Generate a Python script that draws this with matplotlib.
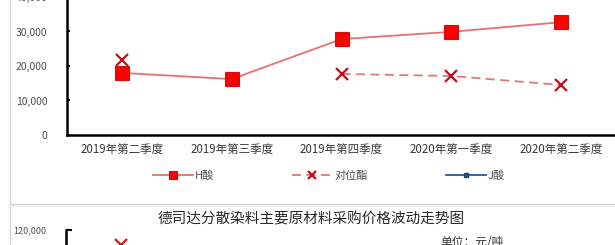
import numpy as np
import matplotlib
matplotlib.use("Agg")
import matplotlib.pyplot as plt
from matplotlib.lines import Line2D

plt.rcParams['font.family'] = ['Noto Sans CJK SC', 'DejaVu Sans']

# data
quarters = ["2019年第二季度", "2019年第三季度", "2019年第四季度",
            "2020年第一季度", "2020年第二季度"]
h_acid = [18000, 16200, 27800, 29900, 32700]
para_ester = [21700, np.nan, 17700, 17100, 14500]
j_acid = [np.nan, np.nan, np.nan, np.nan, np.nan]
series_names = ["H酸", "对位酯", "J酸"]
y_ticks = [0, 10000, 20000, 30000, 40000, 50000]

# lower chart (only its top edge is visible)
title2 = "德司达分散染料主要原材料采购价格波动走势图"
unit2 = "单位：元/吨"
lower_first = [110000, np.nan, np.nan, np.nan, np.nan]

W, H = 615, 245
fig = plt.figure(figsize=(W / 100, H / 100), dpi=100)
fig.patch.set_facecolor("white")

x = np.arange(len(quarters))

ax = fig.add_axes([67 / W, 1 - 135 / H, 549 / W, 172.5 / H])
ax.plot(x, h_acid, color="#e87070", lw=1.3, marker="s", ms=9.5,
        mfc="#ff0000", mec="#d01010", mew=0.8, label=series_names[0])
ax.plot(x, para_ester, color="#e07878", lw=1.3, ls=(0, (5, 3)), marker="x",
        ms=8, mec="#c0101a", mew=1.6, label=series_names[1])
ax.plot(x, j_acid, color="#2f5597", lw=1.3, marker="s", ms=5,
        mfc="#2f5597", mec="#1f3f7a", label=series_names[2])
ax.set_xlim(-0.5, 4.5)
ax.set_ylim(0, 50000)
ax.set_yticks(y_ticks)
ax.set_yticklabels([f"{v:,}" if v else "0" for v in y_ticks])
ax.set_xticks(x)
ax.set_xticklabels(quarters)
for side in ["top", "right"]:
    ax.spines[side].set_visible(False)
for side in ["left", "bottom"]:
    ax.spines[side].set_linewidth(1.8)
    ax.spines[side].set_color("black")
ax.tick_params(axis="y", direction="in", length=2, width=1.5, pad=14,
               labelsize=7.5, labelcolor="#505050")
ax.tick_params(axis="x", length=0, pad=6, labelsize=8.3, labelcolor="#383838")

fig.legend(loc="center", bbox_to_anchor=(329 / W, 1 - 176 / H), ncol=3,
           frameon=False, fontsize=8, handlelength=3.6, handletextpad=0.2,
           columnspacing=7, labelcolor="#505050", markerscale=0.65)

# frame of the document box
fig.add_artist(Line2D([10 / W, 10 / W], [0, 1], color="#d4d4d4", lw=1))
fig.add_artist(Line2D([10 / W, 1], [1 - 204 / H, 1 - 204 / H],
                      color="#d4d4d4", lw=1))
fig.add_artist(Line2D([10 / W, 1], [1 - 206 / H, 1 - 206 / H],
                      color="#ececec", lw=1.5))

# top of the next chart
ax2 = fig.add_axes([66 / W, 1 - 405 / H, 550 / W, 175 / H])
ax2.plot(x, lower_first, ls="none", marker="x", ms=8, mec="#e01010", mew=1.6)
ax2.set_xlim(-0.5, 4.5)
ax2.set_ylim(0, 120000)
ax2.set_yticks([120000])
ax2.set_yticklabels(["120,000"])
ax2.set_xticks([])
for side in ["top", "right", "bottom"]:
    ax2.spines[side].set_visible(False)
ax2.spines["left"].set_linewidth(1.8)
ax2.tick_params(axis="y", direction="in", length=4, width=1.5, pad=14,
                labelsize=6.5, labelcolor="#505050")
fig.text(311 / W, 1 - 219 / H, title2, ha="center", va="center",
         fontsize=10.5, color="#282828")
fig.text(440 / W, 1 - 242 / H, unit2, ha="left", va="center",
         fontsize=8.5, color="#303030")

fig.savefig("out.png", dpi=100, facecolor="white")
